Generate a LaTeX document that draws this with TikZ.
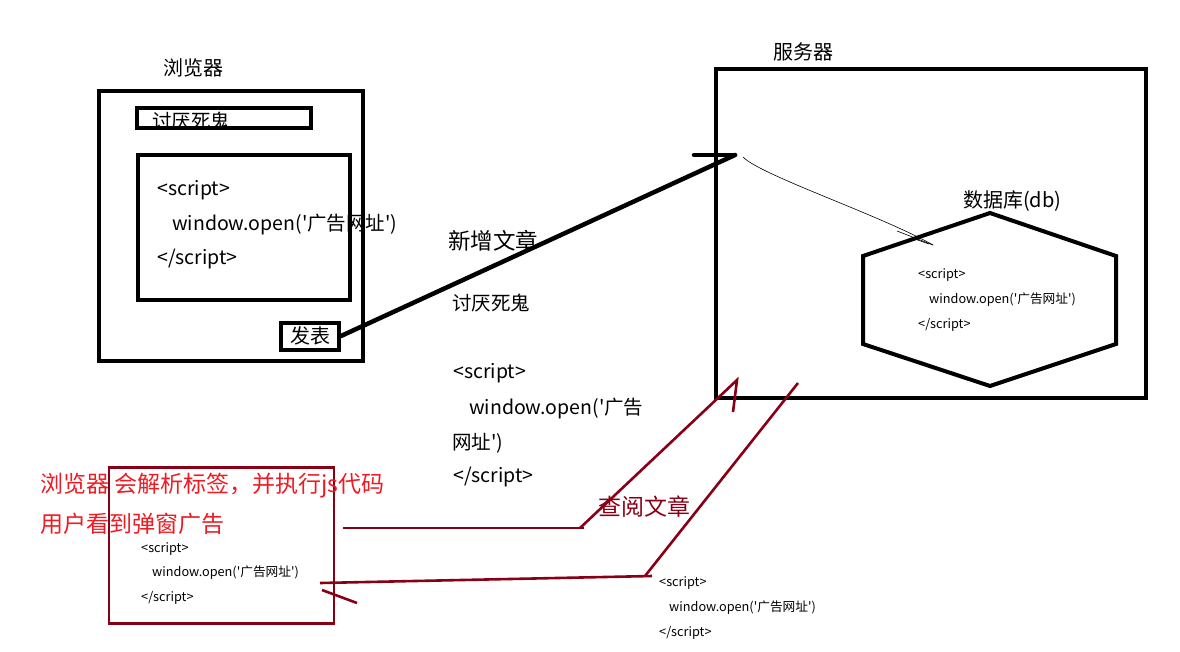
\documentclass[tikz,border=0pt]{standalone}
\usepackage{fontspec}
\setmainfont{Noto Sans CJK SC}[Ligatures=TeXOff]
\usetikzlibrary{arrows.meta}
\definecolor{darkred}{RGB}{136,0,21}
\definecolor{brightred}{RGB}{237,28,36}
\tikzset{
  box/.style={draw=black,line width=4pt},
  txt/.style={anchor=west,inner sep=0pt,font=\fontsize{19.5}{22}\selectfont},
  lbl/.style={anchor=west,inner sep=0pt,font=\fontsize{20}{22}\selectfont},
  small/.style={anchor=west,inner sep=0pt,font=\fontsize{12.7}{14}\selectfont},
  redtxt/.style={anchor=west,inner sep=0pt,text=brightred,font=\fontsize{23}{26}\selectfont},
  redline/.style={draw=darkred,line width=2.6pt},
  thickline/.style={draw=black,line width=4.5pt,line cap=round},
}
\begin{document}
\begin{tikzpicture}[x=1pt,y=-1pt]
\useasboundingbox (0,0) rectangle (1180,651);
% browser
\node[lbl] (blabel) at (163,68) {浏览器};
\draw[box] (99,91) rectangle (363,361);
\node[draw=black,line width=4pt,minimum width=174pt,minimum height=20pt,inner sep=0pt] (titlebox) at (224,118) {};
\node[txt] (titletxt) at (152,121) {讨厌死鬼};
\node[draw=black,line width=4pt,minimum width=212pt,minimum height=145pt,inner sep=0pt] (inner) at (244,227.5) {};
\node[txt] (s1) at (157,190) {<script>};
\node[txt] (s2) at (172,225) {window.open('广告网址')};
\node[txt] (s3) at (157,259) {</script>};
\node[draw=black,line width=4pt,minimum width=58pt,minimum height=27pt,inner sep=0pt,font=\fontsize{20}{22}\selectfont] (post) at (310,336) {发表};
% server
\node[lbl] (slabel) at (773,52) {服务器};
\draw[box] (716,69) rectangle (1146,398);
\coordinate (entry) at (735,155);
\coordinate (entryL) at (694,155);
\draw[thickline] (post.east) -- (entry);
\draw[thickline] (entryL) -- (entry);
% thin arrow to db
\coordinate (tstart) at (743,157);
\coordinate (tend) at (933,245);
\draw[line width=0.6pt] (tstart) .. controls (760,175) and (880,215) .. (tend);
\draw[line width=0.6pt] (897,231) -- (tend);
\draw[line width=0.6pt] (912,238) -- (929,244);
% database
\node[lbl] (dblabel) at (963,201) {数据库(db)};
\draw[line width=4pt,line join=miter] (990,213) -- (1116,256) -- (1116,344) -- (990,386) -- (863,344) -- (863,256) -- cycle;
\node[small] (d1) at (918,275) {<script>};
\node[small] (d2) at (929,300) {window.open('广告网址')};
\node[small] (d3) at (918,325) {</script>};
% middle text
\node[txt,font=\fontsize{22.5}{24}\selectfont] (newart) at (448,241) {新增文章};
\node[txt] (m1) at (452,303) {讨厌死鬼};
\node[txt] (m2) at (453,373) {<script>};
\node[txt] (m3) at (469,409) {window.open('广告};
\node[txt] (m4) at (452,443) {网址')};
\node[txt] (m5) at (453,477) {</script>};
% red box
\node[draw=darkred,line width=2.6pt,minimum width=225pt,minimum height=156pt,inner sep=0pt] (rbox) at (221.5,545.5) {};
\node[redtxt] (r1) at (40,486) {浏览器 会解析标签，并执行js代码};
\node[redtxt] (r2) at (40,524) {用户看到弹窗广告};
\node[small] (b1) at (141,549) {<script>};
\node[small] (b2) at (152,573) {window.open('广告网址')};
\node[small] (b3) at (141,598) {</script>};
% request line
\coordinate (q0) at (343,528);
\coordinate (q1) at (580,528);
\coordinate (q2) at (737,380);
\coordinate (q3) at (733,412);
\draw[redline] (q0) -- (584,528);
\draw[redline] (q1) -- (q2) -- (q3);
\node[anchor=west,inner sep=0pt,text=darkred,font=\fontsize{23}{25}\selectfont] (view) at (598,507) {查阅文章};
% response line
\coordinate (p0) at (798,383);
\coordinate (p1) at (645,576);
\coordinate (p2) at (320,583);
\coordinate (p3) at (322,590);
\coordinate (p4) at (357,603);
\draw[redline] (p0) -- (p1);
\draw[redline] (652,576) -- (p2);
\draw[redline] (p3) -- (p4);
\node[small] (e1) at (659,583) {<script>};
\node[small] (e2) at (669,608) {window.open('广告网址')};
\node[small] (e3) at (659,633) {</script>};
\end{tikzpicture}
\end{document}
